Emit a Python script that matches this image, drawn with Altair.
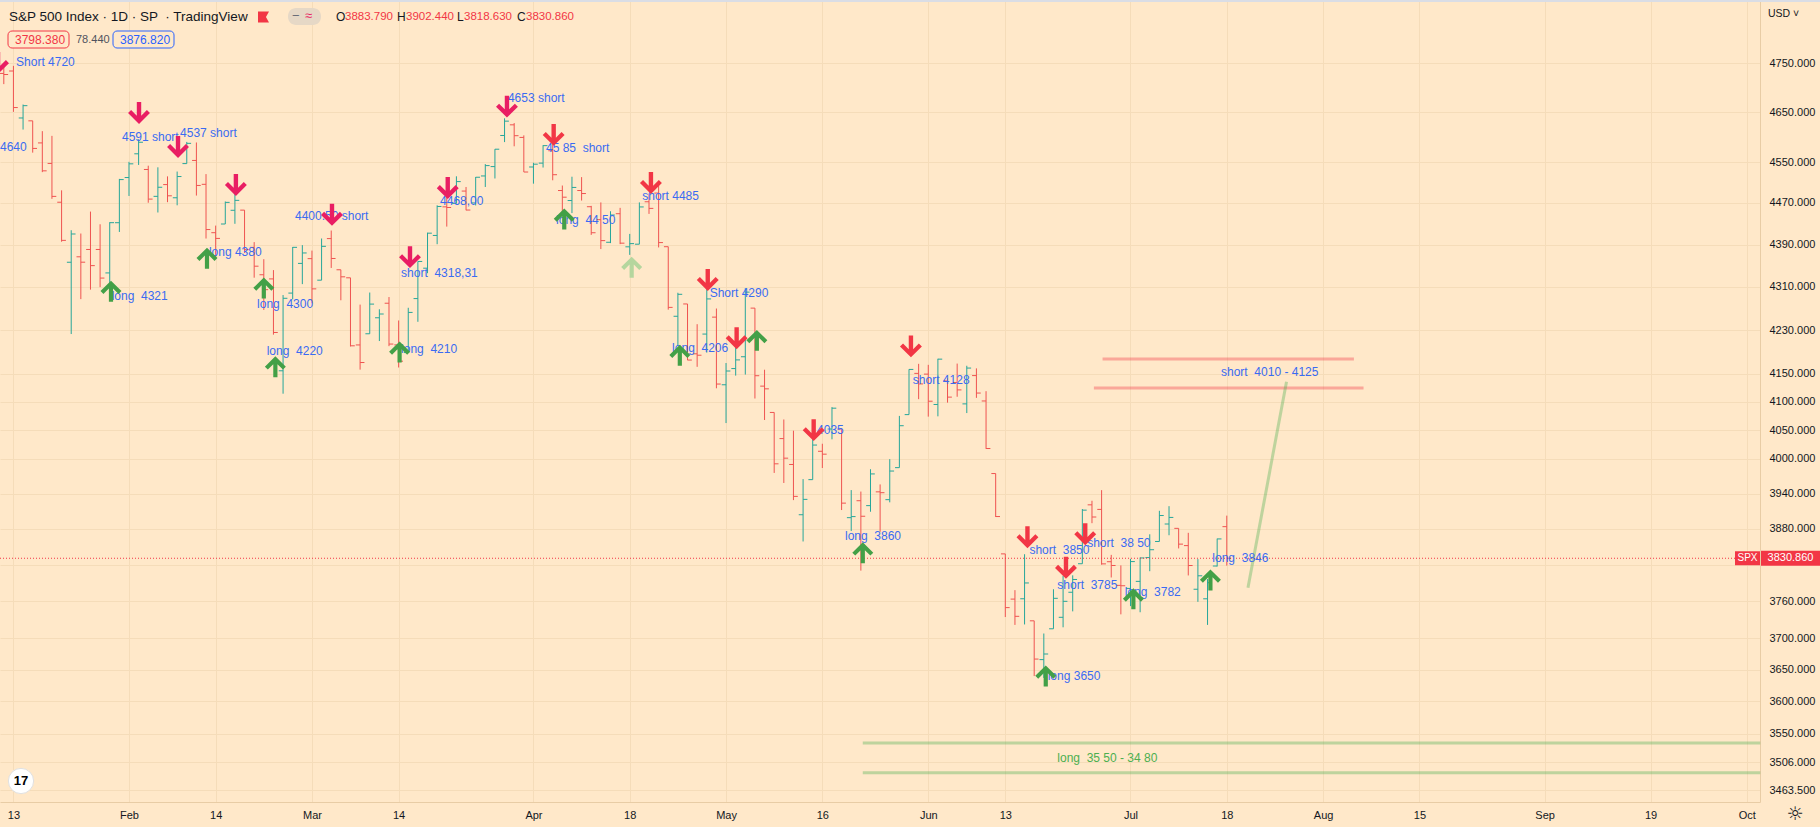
import altair as alt
import pandas as pd
import numpy as np

# ---------------- data (S&P 500 daily bars, Jan 12 - Jul 18 2022) ----------------
dates = ["Jan12","Jan13","Jan14","Jan18","Jan19","Jan20","Jan21","Jan24","Jan25","Jan26","Jan27","Jan28","Jan31",
         "Feb1","Feb2","Feb3","Feb4","Feb7","Feb8","Feb9","Feb10","Feb11","Feb14","Feb15","Feb16","Feb17","Feb18","Feb22","Feb23","Feb24","Feb25","Feb28",
         "Mar1","Mar2","Mar3","Mar4","Mar7","Mar8","Mar9","Mar10","Mar11","Mar14","Mar15","Mar16","Mar17","Mar18","Mar21","Mar22","Mar23","Mar24","Mar25","Mar28","Mar29","Mar30","Mar31",
         "Apr1","Apr4","Apr5","Apr6","Apr7","Apr8","Apr11","Apr12","Apr13","Apr14","Apr18","Apr19","Apr20","Apr21","Apr22","Apr25","Apr26","Apr27","Apr28","Apr29",
         "May2","May3","May4","May5","May6","May9","May10","May11","May12","May13","May16","May17","May18","May19","May20","May23","May24","May25","May26","May27","May31",
         "Jun1","Jun2","Jun3","Jun6","Jun7","Jun8","Jun9","Jun10","Jun13","Jun14","Jun15","Jun16","Jun17","Jun21","Jun22","Jun23","Jun24","Jun27","Jun28","Jun29","Jun30",
         "Jul1","Jul5","Jul6","Jul7","Jul8","Jul11","Jul12","Jul13","Jul14","Jul15","Jul18"]
opens = [4728.59,4733.56,4637.99,4632.24,4588.03,4547.35,4471.38,4356.32,4366.64,4380.58,4380.58,4336.19,4431.79,
         4519.57,4566.39,4535.41,4482.79,4505.75,4480.02,4547.00,4553.24,4506.27,4412.61,4429.28,4455.75,4456.06,4384.57,4332.74,4324.93,4155.77,4298.38,4354.17,
         4363.14,4322.56,4401.31,4342.12,4327.01,4202.66,4223.10,4252.55,4279.50,4202.75,4188.82,4288.14,4345.11,4407.34,4462.40,4469.10,4493.10,4469.98,4522.66,4541.09,4602.86,4624.20,4599.02,
         4540.32,4547.97,4572.45,4494.17,4474.65,4494.15,4462.64,4437.59,4394.30,4449.12,4385.63,4390.63,4472.26,4489.17,4385.83,4255.34,4278.14,4186.52,4222.58,4253.75,
         4130.61,4159.78,4181.18,4270.43,4128.17,4081.27,4035.18,3990.08,3903.95,3963.90,4013.02,4052.00,4051.98,3899.00,3927.76,3919.42,3942.94,3929.59,3984.60,4077.43,4151.09,
         4149.78,4095.41,4137.57,4134.72,4096.47,4147.12,4101.65,3974.39,3838.15,3763.52,3764.05,3728.18,3665.90,3715.31,3733.89,3774.71,3821.75,3920.76,3913.00,3825.09,3785.99,
         3781.00,3792.61,3831.98,3858.85,3888.26,3880.94,3851.95,3779.67,3763.99,3818.00,3883.79]
highs = [4748.83,4744.13,4665.13,4632.24,4611.55,4602.11,4494.52,4417.35,4411.01,4453.23,4428.74,4432.72,4516.89,
         4550.49,4595.31,4542.88,4539.66,4521.86,4531.32,4590.03,4588.92,4526.33,4426.22,4472.77,4489.55,4456.06,4394.60,4362.12,4341.51,4294.73,4385.34,4388.84,
         4378.45,4401.48,4416.78,4342.12,4327.01,4276.94,4299.40,4268.28,4291.01,4247.57,4271.05,4357.86,4412.67,4465.40,4481.75,4522.00,4501.07,4520.58,4546.03,4575.65,4637.30,4627.77,4603.07,
         4548.70,4583.50,4593.45,4503.94,4521.16,4520.41,4464.35,4471.00,4453.92,4460.46,4410.31,4471.03,4488.29,4512.94,4385.83,4299.02,4278.14,4240.71,4308.45,4269.68,
         4169.81,4200.10,4307.66,4270.43,4157.69,4081.27,4068.82,4049.09,3964.80,4038.88,4026.17,4090.72,4051.98,3945.96,3943.42,3981.88,3955.68,3999.33,4075.14,4158.49,4168.34,
         4166.54,4177.51,4142.67,4168.78,4164.86,4160.14,4119.10,3974.39,3838.15,3778.18,3837.56,3728.18,3707.71,3779.65,3801.79,3802.58,3913.65,3927.72,3945.86,3836.50,3818.99,
         3829.82,3832.19,3870.91,3910.63,3918.50,3880.94,3873.41,3829.44,3796.41,3863.62,3902.44]
lows = [4706.71,4650.29,4614.75,4568.70,4530.20,4477.95,4395.34,4222.62,4287.11,4304.80,4309.50,4292.46,4414.02,
        4483.53,4544.32,4470.39,4451.50,4471.47,4465.40,4547.00,4484.31,4401.41,4364.84,4429.28,4429.68,4373.81,4327.22,4267.11,4221.51,4114.65,4286.83,4315.12,
        4279.54,4322.56,4345.56,4284.98,4199.85,4157.87,4223.10,4209.80,4200.49,4161.72,4187.90,4245.13,4335.65,4390.57,4424.30,4469.10,4455.81,4465.17,4501.07,4517.69,4589.66,4581.32,4530.41,
        4507.57,4539.21,4514.17,4450.04,4450.30,4474.60,4408.38,4381.34,4392.70,4390.77,4370.30,4390.63,4448.76,4384.47,4267.62,4200.82,4175.04,4162.90,4188.63,4124.28,
        4062.51,4147.08,4148.91,4106.01,4067.91,3975.48,3958.17,3928.82,3858.87,3963.90,3983.99,4033.93,3911.91,3876.58,3810.32,3909.04,3875.13,3925.03,3984.60,4077.43,4104.88,
        4073.85,4074.37,4098.67,4109.18,4080.19,4107.20,4017.17,3900.16,3734.30,3721.56,3722.30,3639.77,3636.87,3715.31,3717.69,3743.52,3821.75,3889.66,3820.14,3799.02,3738.67,
        3752.10,3742.06,3809.37,3858.85,3869.34,3847.22,3802.36,3759.07,3721.56,3817.18,3818.63]
closes = [4726.35,4659.03,4662.85,4577.11,4532.76,4482.73,4397.94,4410.13,4356.45,4349.93,4326.51,4431.85,4515.55,
          4546.54,4589.38,4477.44,4500.53,4483.87,4521.54,4587.18,4504.08,4418.64,4401.67,4471.07,4475.01,4380.26,4348.87,4304.76,4225.50,4288.70,4384.65,4373.94,
          4306.26,4386.54,4363.49,4328.87,4201.09,4170.70,4277.88,4259.52,4204.31,4173.11,4262.45,4357.86,4411.67,4463.12,4461.18,4511.61,4456.24,4520.16,4543.06,4575.52,4631.60,4602.45,4530.41,
          4545.86,4582.64,4525.12,4481.15,4500.21,4488.28,4412.53,4397.45,4446.59,4392.59,4391.69,4462.21,4459.45,4393.66,4271.78,4296.12,4175.20,4183.96,4287.50,4131.93,
          4155.38,4175.48,4300.17,4146.87,4123.34,3991.24,4001.05,3935.18,3930.08,4023.89,4008.01,4088.85,3923.68,3900.79,3901.36,3973.75,3941.48,3978.73,4057.84,4158.24,4132.15,
          4101.23,4176.82,4108.54,4121.43,4160.68,4115.77,4017.82,3900.86,3749.63,3735.48,3789.99,3666.77,3674.84,3764.79,3759.89,3795.73,3911.74,3900.11,3821.55,3818.83,3785.38,
          3825.33,3831.39,3845.08,3902.62,3899.38,3854.43,3818.80,3801.78,3790.38,3863.16,3830.86]

# x axis: trading-day index -> label
x_tick_idx = [1, 13, 22, 32, 41, 55, 65, 75, 85, 96, 104, 117, 127, 137, 147, 160, 171, 181]
x_tick_lab = ["13", "Feb", "14", "Mar", "14", "Apr", "18", "May", "16", "Jun", "13", "Jul", "18", "Aug", "15", "Sep", "19", "Oct"]
y_ticks = [4750, 4650, 4550, 4470, 4390, 4310, 4230, 4150, 4100, 4050, 4000, 3940, 3880, 3820,
           3760, 3700, 3650, 3600, 3550, 3506, 3463.5]
y_hidden_label = 3820   # covered by the last-price tag
x_domain = [-0.395, 182.37]
y_domain = [3446.1, 4881.8]

# signal arrows
down_i = [-0.6, 14.04, 18.09, 24.1, 34.08, 42.18, 46.1, 52.25, 57.1, 67.2, 73.1, 76.1, 84.1, 94.2, 106.3, 110.3, 112.3]
down_p = [4750, 4648, 4580, 4505, 4447, 4366, 4499, 4661, 4604, 4509, 4323, 4215, 4050, 4200, 3866, 3815, 3871]
down_kind = ["pink"] * 8 + ["red"] * 9
up_i = [11.13, 21.1, 27.0, 28.2, 41.1, 58.2, 65.2, 70.2, 78.2, 89.2, 108.2, 117.3, 125.3]
up_p = [4302, 4364, 4308, 4163, 4190, 4439, 4347, 4184, 4211, 3840, 3640, 3764, 3795]
up_kind = ["green"] * 6 + ["light"] + ["green"] * 6

# text notes
note_text = ["Short 4720", "4640", "4591 short", "4537 short", "4400.50 short", "short  4318,31", "4468,00",
             "4653 short", "45 85  short", "long  44 50", "short 4485", "Short 4290", "long  4206", "4035",
             "long  3860", "short 4128", "short  3850", "short  38 50", "short  3785", "long 3650", "long  3782",
             "long  3846", "long  4321", "long 4380", "long  4300", "long  4220", "long  4210", "short  4010 - 4125",
             "long  35 50 - 34 80"]
note_i = [1.27, -0.395, 12.27, 18.3, 30.24, 41.25, 45.3, 52.35, 56.3, 57.35, 66.3, 73.3, 69.4, 84.45,
          87.35, 94.4, 106.5, 112.5, 109.4, 108.4, 116.4, 125.5, 11.2, 21.3, 26.3, 27.3, 41.25, 126.4, 109.4]
note_p = [4752, 4580, 4600, 4608, 4445, 4336, 4474, 4678, 4578, 4437, 4484, 4299, 4197, 4050,
          3868, 4139, 3844, 3856, 3787, 3640, 3775, 3831, 4293, 4376, 4278, 4191, 4195, 4154, 3513]
note_kind = ["blue"] * 28 + ["green"]

# drawn lines (zones + projection)
line_i = [114.1, 113.2, 89.2, 89.2, 129.2]
line_i2 = [140.2, 141.2, 182.4, 182.4, 133.2]
line_p = [4177, 4125, 3535.6, 3490, 3782]
line_p2 = [4177, 4125, 3535.6, 3490, 4136]
line_kind = ["red", "red", "green", "green", "green"]

last_close = 3830.86

# ---------------- styling ----------------
FONT = "Liberation Sans"
BG = "#FFE8C9"
GRID = "#F5DCB9"
SEP = "#E8CCA5"
UP = "#26A69A"
DOWN = "#EF5350"
RED = "#F23645"
PINK = "#E91E63"
GREEN = "#43A047"
BLUE = "#2962FF"
DARK = "#131722"
PALETTE = {"up": UP, "down": DOWN, "pink": PINK, "red": RED, "green": GREEN, "light": "#B5D69E",
           "blue": "#3A6BF2", "tgreen": "#4CAF50"}

DOWN_PATH = "M-0.2,-1 L0.2,-1 L0.2,0.25 L0.72,-0.27 L1,0.01 L0,1 L-1,0.01 L-0.72,-0.27 L-0.2,0.25 Z"
UP_PATH = "M-0.2,1 L0.2,1 L0.2,-0.25 L0.72,0.27 L1,-0.01 L0,-1 L-1,-0.01 L-0.72,0.27 L-0.2,-0.25 Z"

xs = alt.Scale(domain=x_domain, nice=False, zero=False)
ys = alt.Scale(type="log", domain=y_domain, nice=False)

label_expr = ("[" + ",".join("'%s'" % t for t in x_tick_lab) + "][indexof(["
              + ",".join(str(v) for v in x_tick_idx) + "], datum.value)]")
y_label_expr = "datum.value == %s ? '' : format(datum.value, '.3f')" % y_hidden_label

xaxis = alt.Axis(values=x_tick_idx, labelExpr=label_expr, grid=True, gridColor=GRID, gridWidth=1,
                 ticks=False, domain=True, domainColor=SEP, labelColor=DARK, labelFont=FONT,
                 labelFontSize=11, labelPadding=7, title=None, labelOverlap=False, labelFlush=False, zindex=0)
yaxis = alt.Axis(orient="right", values=y_ticks, labelExpr=y_label_expr, grid=True, gridColor=GRID, gridWidth=1,
                 ticks=False, domain=True, domainColor=SEP, labelColor=DARK, labelFont=FONT,
                 labelFontSize=11, labelPadding=9, labelAlign="left", title=None, labelOverlap=False,
                 labelFlush=False, zindex=0)


def X(field):
    return alt.X(field, scale=xs, axis=xaxis)


def Y(field):
    return alt.Y(field, scale=ys, axis=yaxis)


def C(field):
    return alt.Color(field, scale=None)


bars = pd.DataFrame({"i": np.arange(len(dates)), "date": dates, "O": opens, "H": highs, "L": lows, "C": closes})
bars["col"] = np.where(bars["C"] >= bars["O"], PALETTE["up"], PALETTE["down"])

hl = alt.Chart(bars).mark_rule(strokeWidth=1).encode(x=X("i:Q"), y=Y("L:Q"), y2="H:Q", color=C("col:N"))
otick = alt.Chart(bars).transform_calculate(io="datum.i - 0.45").mark_rule(strokeWidth=1).encode(
    x=X("io:Q"), x2="i:Q", y=Y("O:Q"), color=C("col:N"))
ctick = alt.Chart(bars).transform_calculate(ic="datum.i + 0.45").mark_rule(strokeWidth=1).encode(
    x=X("i:Q"), x2="ic:Q", y=Y("C:Q"), color=C("col:N"))

# price line
pl = pd.DataFrame({"p": [last_close]})
price_line = alt.Chart(pl).mark_rule(strokeWidth=1, strokeDash=[1, 2], color=RED).encode(
    x=alt.value(0), x2=alt.value(1735), y=Y("p:Q"))

# zone lines
lines = pd.DataFrame({"i": line_i, "i2": line_i2, "p": line_p, "p2": line_p2,
                      "col": [RED if k == "red" else "#4CAF50" for k in line_kind]})
zone = alt.Chart(lines).mark_rule(strokeWidth=3, opacity=0.36, strokeCap="butt").encode(
    x=X("i:Q"), x2="i2:Q", y=Y("p:Q"), y2="p2:Q", color=C("col:N"))

# arrows
dn = pd.DataFrame({"i": down_i, "p": down_p, "col": [PALETTE[k] for k in down_kind]})
up = pd.DataFrame({"i": up_i, "p": up_p, "col": [PALETTE[k] for k in up_kind]})
dn_layer = alt.Chart(dn).mark_point(shape=DOWN_PATH, size=480, filled=True, opacity=1, strokeWidth=0, clip=True).encode(
    x=X("i:Q"), y=Y("p:Q"), color=C("col:N"))
up_layer = alt.Chart(up).mark_point(shape=UP_PATH, size=440, filled=True, opacity=1, strokeWidth=0, clip=True).encode(
    x=X("i:Q"), y=Y("p:Q"), color=C("col:N"))

# notes
notes = pd.DataFrame({"t": [s.replace("  ", "\u00a0\u00a0") for s in note_text], "i": note_i, "p": note_p,
                      "col": [PALETTE["blue"] if k == "blue" else PALETTE["tgreen"] for k in note_kind]})
note_layer = alt.Chart(notes).mark_text(align="left", baseline="middle", font=FONT, fontSize=12).encode(
    x=X("i:Q"), y=Y("p:Q"), text="t:N", color=C("col:N"))

# last price boxes
box_layer = alt.Chart(pl).mark_point(shape="M-1,-0.254 L1,-0.254 L1,0.254 L-1,0.254 Z", size=3481,
                                     filled=True, color=RED, opacity=1, strokeWidth=0).encode(
    x=alt.value(1790.5), y=Y("p:Q"))
box_text = alt.Chart(pl).mark_text(font=FONT, fontSize=11, color="white", align="center", baseline="middle",
                                   text="3830.860").encode(x=alt.value(1790.5), y=Y("p:Q"))
spx_box = alt.Chart(pl).mark_point(shape="M-1,-0.56 L1,-0.56 L1,0.56 L-1,0.56 Z", size=625,
                                   filled=True, color=RED, opacity=1, strokeWidth=0).encode(
    x=alt.value(1747.5), y=Y("p:Q"))
spx_text = alt.Chart(pl).mark_text(font=FONT, fontSize=10, color="white", align="center", baseline="middle",
                                   text="SPX").encode(x=alt.value(1747.5), y=Y("p:Q"))

# ---------------- chrome (legend header, logo, etc.) ----------------
one = pd.DataFrame({"k": [0]})


def rect(x, x2, y, y2, fill, stroke=None, radius=0):
    kw = dict(fill=fill, cornerRadius=radius)
    if stroke:
        kw.update(stroke=stroke, strokeWidth=1)
    return alt.Chart(one).mark_rect(**kw).encode(
        x=alt.value(x), x2=alt.value(x2), y=alt.value(y), y2=alt.value(y2))


def txt(x, y, s, col, fs, align="left", weight="normal", font=FONT):
    return alt.Chart(one).mark_text(text=s, color=col, fontSize=fs, align=align, baseline="middle",
                                    font=font, fontWeight=weight).encode(x=alt.value(x), y=alt.value(y))


header_items = [
    (9, 17, "S&P 500 Index \u00b7 1D \u00b7 SP \u00a0\u00b7 TradingView", DARK, 13.5),
    (336, 17, "O", DARK, 12), (345, 17, "3883.790", RED, 11.5),
    (397, 17, "H", DARK, 12), (406, 17, "3902.440", RED, 11.5),
    (457, 17, "L", DARK, 12), (464, 17, "3818.630", RED, 11.5),
    (517, 17, "C", DARK, 12), (526, 17, "3830.860", RED, 11.5),
    (15, 40, "3798.380", RED, 12), (76, 40, "78.440", "#50535E", 11),
    (120, 40, "3876.820", BLUE, 12),
    (1768, 14, "USD \u02c5", DARK, 10.5),
]

chrome = [
    rect(0, 1820, 0, 2, "#DADDE5"),
    rect(8, 69, 31, 48, BG, RED, 4),
    rect(113, 174, 31, 48, BG, BLUE, 4),
    rect(288, 321, 8, 25, "#E6D8C6", None, 8),
    txt(292, 16, "\u2212", "#6A6D78", 13),
    txt(305, 16, "\u2248", PINK, 13),
    alt.Chart(one).mark_point(shape="M-1,-1 L1,-1 L0.45,0 L1,1 L-1,1 Z", size=121, filled=True,
                              color=RED, opacity=1, strokeWidth=0).encode(x=alt.value(263.5), y=alt.value(17)),
    alt.Chart(one).mark_point(shape="circle", size=640, filled=True, color="white", opacity=1,
                              stroke="#E0E0E0", strokeWidth=1).encode(x=alt.value(21), y=alt.value(781)),
    txt(21, 781, "17", "#000000", 13, align="center", weight="bold"),
    txt(1795, 814, "\u263c", DARK, 19, align="center", font="DejaVu Sans"),
]
chrome += [txt(x, y, s, c, f) for (x, y, s, c, f) in header_items]

chart = alt.layer(
    hl, otick, ctick, price_line, zone, note_layer, dn_layer, up_layer,
    spx_box, spx_text, box_layer, box_text, *chrome
).properties(
    width=1760, height=802,
    autosize=alt.AutoSizeParams(type="none"),
    padding={"left": 0, "top": 0, "right": 60, "bottom": 25},
    background=BG,
).configure_view(stroke=None)

chart.save("out.html", embed_options={"renderer": "svg", "actions": False})
